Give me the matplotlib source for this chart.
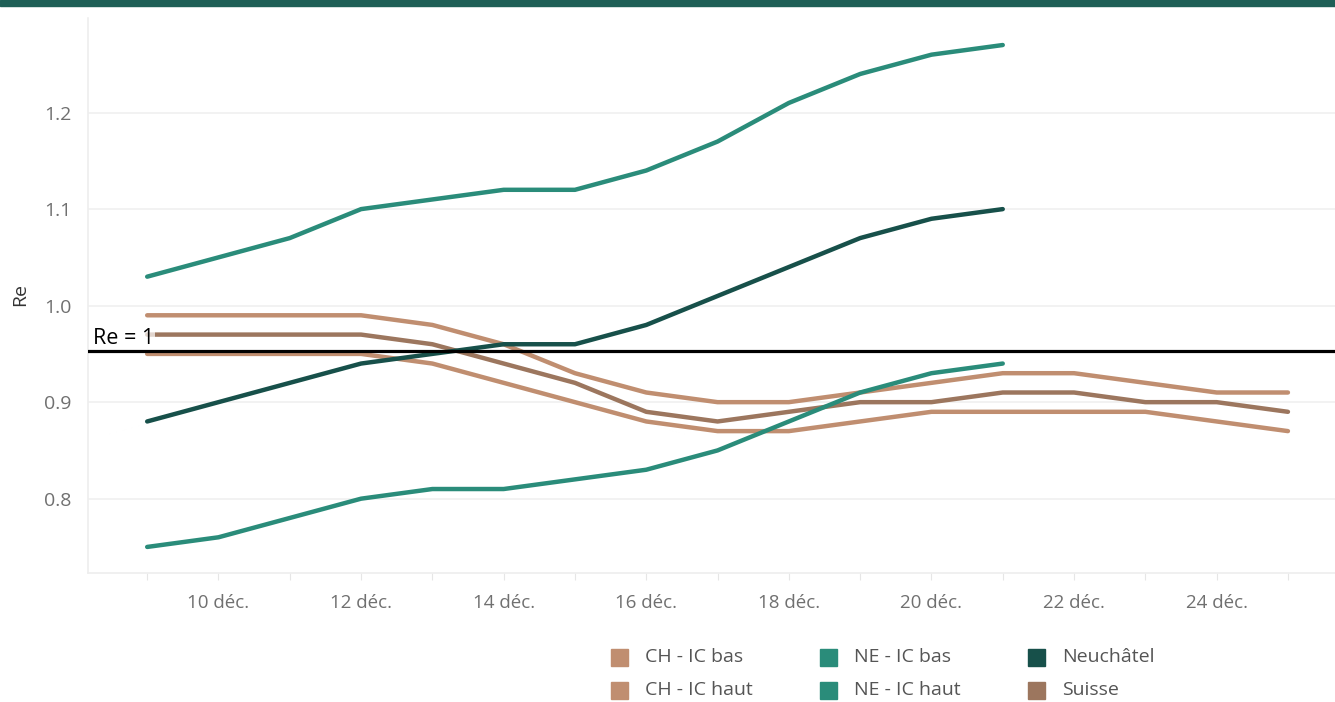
import matplotlib
matplotlib.use("Agg")
import matplotlib.pyplot as plt
from matplotlib.patches import Rectangle

plt.rcParams['font.family'] = ['Open Sans', 'DejaVu Sans']

days = list(range(9, 26))
xtick_days = [10, 12, 14, 16, 18, 20, 22, 24]
xtick_labels = ["10 déc.", "12 déc.", "14 déc.", "16 déc.", "18 déc.", "20 déc.", "22 déc.", "24 déc."]
yticks = [0.8, 0.9, 1.0, 1.1, 1.2]

ne_haut = [1.03, 1.05, 1.07, 1.10, 1.11, 1.12, 1.12, 1.14, 1.17, 1.21, 1.24, 1.26, 1.27]
neuchatel = [0.88, 0.90, 0.92, 0.94, 0.95, 0.96, 0.96, 0.98, 1.01, 1.04, 1.07, 1.09, 1.10]
ne_bas = [0.75, 0.76, 0.78, 0.80, 0.81, 0.81, 0.82, 0.83, 0.85, 0.88, 0.91, 0.93, 0.94]
ch_haut = [0.99, 0.99, 0.99, 0.99, 0.98, 0.96, 0.93, 0.91, 0.90, 0.90, 0.91, 0.92, 0.93, 0.93, 0.92, 0.91, 0.91]
suisse = [0.97, 0.97, 0.97, 0.97, 0.96, 0.94, 0.92, 0.89, 0.88, 0.89, 0.90, 0.90, 0.91, 0.91, 0.90, 0.90, 0.89]
ch_bas = [0.95, 0.95, 0.95, 0.95, 0.94, 0.92, 0.90, 0.88, 0.87, 0.87, 0.88, 0.89, 0.89, 0.89, 0.89, 0.88, 0.87]
re_line = 0.953

C_CH = "#C08E70"
C_SU = "#9C765E"
C_NE = "#2A8C7A"
C_NEU = "#17504A"

fig = plt.figure(figsize=(13.35, 7.02), dpi=100)
fig.patches.append(Rectangle((0, 1 - 6/702), 1, 6/702, transform=fig.transFigure,
                             color="#1E5F56", zorder=10))
ax = fig.add_axes([88/1335, 129/702, 1 - 88/1335, (573-18)/702])

lw = 3.2
ax.plot(days, ch_bas, color=C_CH, lw=lw, solid_capstyle='round', zorder=3)
ax.plot(days, ch_haut, color=C_CH, lw=lw, solid_capstyle='round', zorder=3)
ax.plot(days, suisse, color=C_SU, lw=lw, solid_capstyle='round', zorder=3)
ax.plot(days[:len(ne_bas)], ne_bas, color=C_NE, lw=lw, solid_capstyle='round', zorder=3)
ax.plot(days[:len(ne_haut)], ne_haut, color=C_NE, lw=lw, solid_capstyle='round', zorder=3)
ax.plot(days[:len(neuchatel)], neuchatel, color=C_NEU, lw=lw, solid_capstyle='round', zorder=4)

ax.axhline(re_line, color="black", lw=2.3, zorder=5)
ax.text(8.24, re_line + 0.0075, "Re = 1", fontsize=15.5, color="black", va="baseline", ha="left",
        zorder=6, bbox=dict(facecolor="white", alpha=0.7, edgecolor="none", pad=0.3))

ax.set_xlim(8.17, 25.66)
ax.set_ylim(0.723, 1.298)
ax.set_yticks(yticks)
ax.set_yticklabels([f"{v:.1f}" for v in yticks])
ax.set_xticks(days, minor=False)
ax.set_xticklabels(["" if d not in xtick_days else xtick_labels[xtick_days.index(d)] for d in days])
ax.tick_params(axis='x', length=5, color="#e6e6e6", labelsize=13.5, labelcolor="#707070", pad=10)
ax.tick_params(axis='y', length=0, labelsize=14, labelcolor="#707070", pad=12)
ax.grid(axis='y', color="#f0f0f0", lw=1.2)
ax.set_axisbelow(True)
for s in ["top", "right"]:
    ax.spines[s].set_visible(False)
ax.spines["left"].set_color("#eeeeee")
ax.spines["bottom"].set_color("#eeeeee")
ax.spines["left"].set_linewidth(1.2)
ax.spines["bottom"].set_linewidth(1.2)
ax.set_ylabel("Re", fontsize=14, color="#333333")
ax.yaxis.set_label_coords(-59/1247, (573-295)/555)

legend_labels = ["CH - IC bas", "CH - IC haut", "NE - IC bas", "NE - IC haut", "Neuchâtel", "Suisse"]
legend_colors = [C_CH, C_CH, C_NE, C_NE, C_NEU, C_SU]
col_x = [611, 820, 1028]
row_y = [657, 690]
W, H = 1335, 702
for i, (lab, col) in enumerate(zip(legend_labels, legend_colors)):
    cx = col_x[i // 2]
    cy = row_y[i % 2]
    fig.patches.append(Rectangle((cx / W, 1 - (cy + 9) / H), 17 / W, 17 / H,
                                 transform=fig.transFigure, color=col))
    fig.text((cx + 34) / W, 1 - cy / H, lab, fontsize=14, color="#555555", va="center", ha="left")

fig.savefig("out.png", dpi=100, facecolor="white")
